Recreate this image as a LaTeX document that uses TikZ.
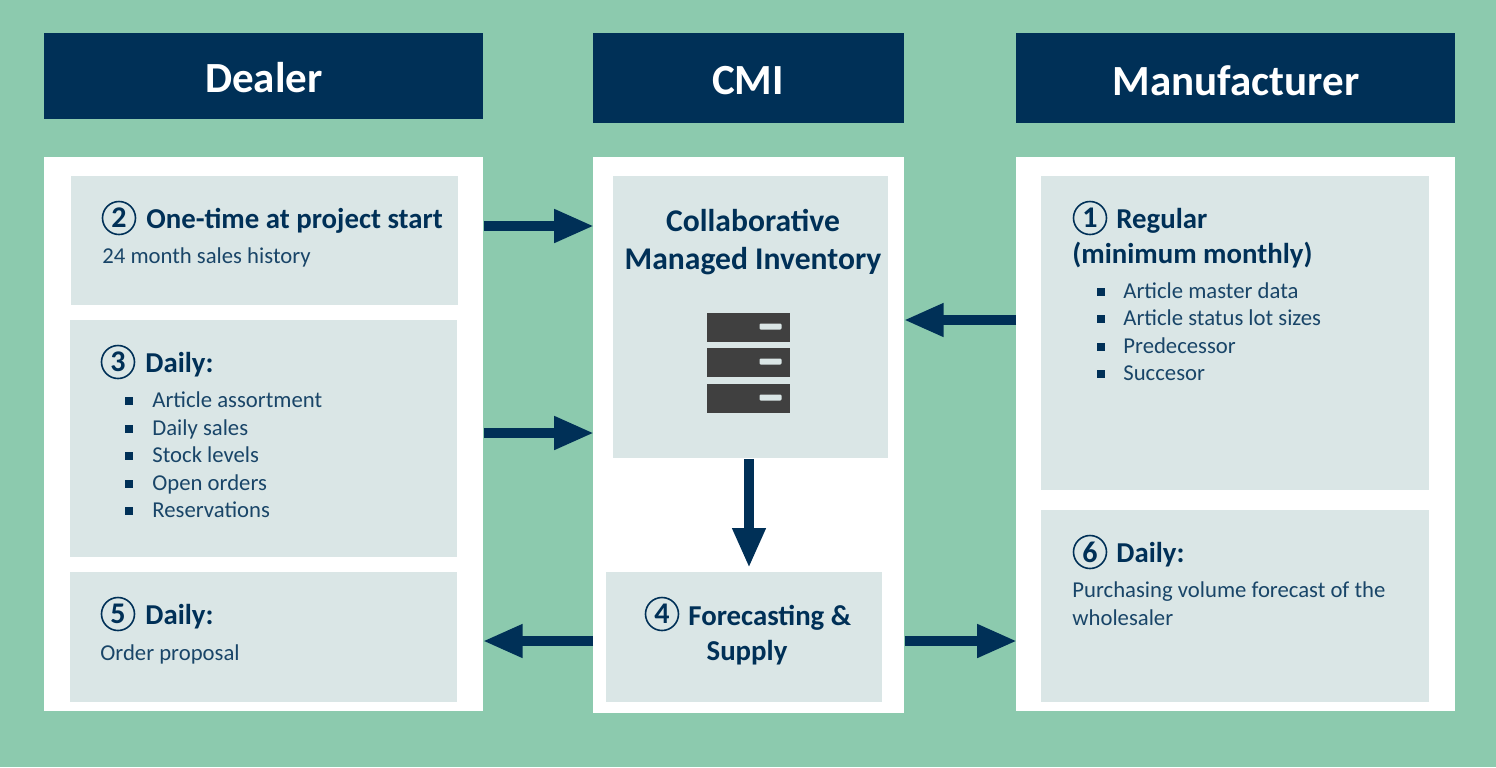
\documentclass[tikz,border=0pt]{standalone}
\usepackage{fontspec}
\setmainfont{Carlito}
\usetikzlibrary{arrows.meta}
\definecolor{bgc}{HTML}{8CCAAE}
\definecolor{navy}{HTML}{003057}
\definecolor{pale}{HTML}{DAE6E6}
\definecolor{srv}{HTML}{404040}
\tikzset{
  x=0.5pt,y=-0.5pt,
  head/.style={fill=navy,text=white,inner sep=0pt,font=\fontsize{21.5}{25}\selectfont\bfseries},
  panel/.style={fill=white,draw=none},
  inner/.style={fill=pale,draw=none},
  ttl/.style={anchor=base west,inner sep=0pt,text=navy,font=\fontsize{14.4}{17}\selectfont\bfseries},
  bigttl/.style={anchor=base,inner sep=0pt,text=navy,font=\fontsize{15.8}{19}\selectfont\bfseries},
  body/.style={anchor=base west,inner sep=0pt,text=navy!90!white,font=\fontsize{11.35}{13}\selectfont},
  num/.style={circle,draw=navy,line width=0.8pt,text=navy,inner sep=0pt,minimum size=16.5pt,font=\fontsize{15}{15}\selectfont\bfseries},
  bul/.style={fill=navy,inner sep=0pt,minimum size=4pt,rectangle},
  conn/.style={draw=navy,line width=5pt,shorten >=-0.6pt,-{Triangle[length=20pt,width=15.5pt]}},
  rackk/.style={fill=srv,inner sep=0pt,minimum width=41.5pt,minimum height=14.5pt},
  slot/.style={fill=pale,rounded corners=0.6pt,inner sep=0pt,minimum width=11pt,minimum height=3pt},
}
\begin{document}
\begin{tikzpicture}
\useasboundingbox (0,0) rectangle (1496,767);
\fill[bgc] (0,0) rectangle (1496,767);
% headers
\fill[navy] (44,33) rectangle (483,119);
\fill[navy] (593,33) rectangle (904,123);
\fill[navy] (1016,33) rectangle (1455,123);
\node[head] (hd) at (264,78) {Dealer};
\node[head] (hc) at (748,81) {CMI};
\node[head] (hm) at (1236,81) {Manufacturer};
% panels
\node[panel,anchor=north west,inner sep=0pt,minimum width=219.5pt,minimum height=277pt] (dealer) at (44,157) {};
\node[panel,anchor=north west,inner sep=0pt,minimum width=155.5pt,minimum height=278pt] (cmi) at (593,157) {};
\node[panel,anchor=north west,inner sep=0pt,minimum width=219.5pt,minimum height=277pt] (manu) at (1016,157) {};
% inner boxes
\node[inner,anchor=north west,inner sep=0pt,minimum width=193.5pt,minimum height=64.5pt] (s2) at (71,176) {};
\node[inner,anchor=north west,inner sep=0pt,minimum width=193.5pt,minimum height=118.5pt] (s3) at (70,320) {};
\node[inner,anchor=north west,inner sep=0pt,minimum width=193.5pt,minimum height=65pt] (s5) at (70,572) {};
\node[inner,anchor=north west,inner sep=0pt,minimum width=137.5pt,minimum height=141pt] (cmibox) at (613,176) {};
\node[inner,anchor=north west,inner sep=0pt,minimum width=138pt,minimum height=65pt] (s4) at (606,572) {};
\node[inner,anchor=north west,inner sep=0pt,minimum width=194pt,minimum height=157pt] (s1) at (1041,176) {};
\node[inner,anchor=north west,inner sep=0pt,minimum width=194pt,minimum height=96pt] (s6) at (1041,510) {};
% section 2
\node[num] (n2) at (119,218) {2};
\node[ttl] (t2) at (146,228) {One-time at project start};
\node[body] (b2) at (102,263) {24 month sales history};
% section 3
\node[num] (n3) at (118,362) {3};
\node[ttl] (t3) at (145,372) {Daily:};
\foreach \i/\y/\t in {a/407/Article assortment,b/435/Daily sales,c/462/Stock levels,d/490/Open orders,e/517/Reservations}{
  \node[bul] (bu\i) at (129,\y-6) {};
  \node[body] (li\i) at (152,\y) {\t};
}
% section 5
\node[num] (n5) at (118,614) {5};
\node[ttl] (t5) at (145,624) {Daily:};
\node[body] (b5) at (100,660) {Order proposal};
% CMI
\node[bigttl] (cl1) at (753,231) {Collaborative};
\node[bigttl] (cl2) at (753,269) {Managed Inventory};
\foreach \i/\y in {a/327.5,b/362.5,c/398.5}{
  \node[rackk] (r\i) at (748.5,\y) {};
  \node[slot] (sl\i) at (770.5,\y-1) {};
}
% section 4
\node[num] (n4) at (662,614) {4};
\node[ttl] (t4a) at (688,625) {Forecasting \&};
\node[ttl,anchor=base] (t4b) at (747,660) {Supply};
% section 1
\node[num] (n1) at (1090,218) {1};
\node[ttl] (t1a) at (1116,228) {Regular};
\node[ttl] (t1b) at (1072,263) {(minimum monthly)};
\foreach \i/\y/\t in {a/298/Article master data,b/325/Article status lot sizes,c/353/Predecessor,d/380/Succesor}{
  \node[bul] (bv\i) at (1101,\y-6) {};
  \node[body] (lv\i) at (1123,\y) {\t};
}
% section 6
\node[num] (n6) at (1090,552) {6};
\node[ttl] (t6) at (1116,562) {Daily:};
\node[body] (b6a) at (1072,597) {Purchasing volume forecast of the};
\node[body] (b6b) at (1072,625) {wholesaler};
% connectors
\coordinate (y1) at (0,226);
\coordinate (y2) at (0,433);
\coordinate (y3) at (0,320);
\coordinate (y4) at (0,641);
\draw[conn] (dealer.east |- y1) -- (cmi.west |- y1);
\draw[conn] (dealer.east |- y2) -- (cmi.west |- y2);
\draw[conn] (manu.west |- y3) -- (cmi.east |- y3);
\draw[conn] (cmi.west |- y4) -- (dealer.east |- y4);
\draw[conn] (cmi.east |- y4) -- (manu.west |- y4);
\coordinate (vx) at (749,0);
\draw[conn,shorten >=2pt] (vx |- cmibox.south) -- (vx |- s4.north);
\end{tikzpicture}
\end{document}
